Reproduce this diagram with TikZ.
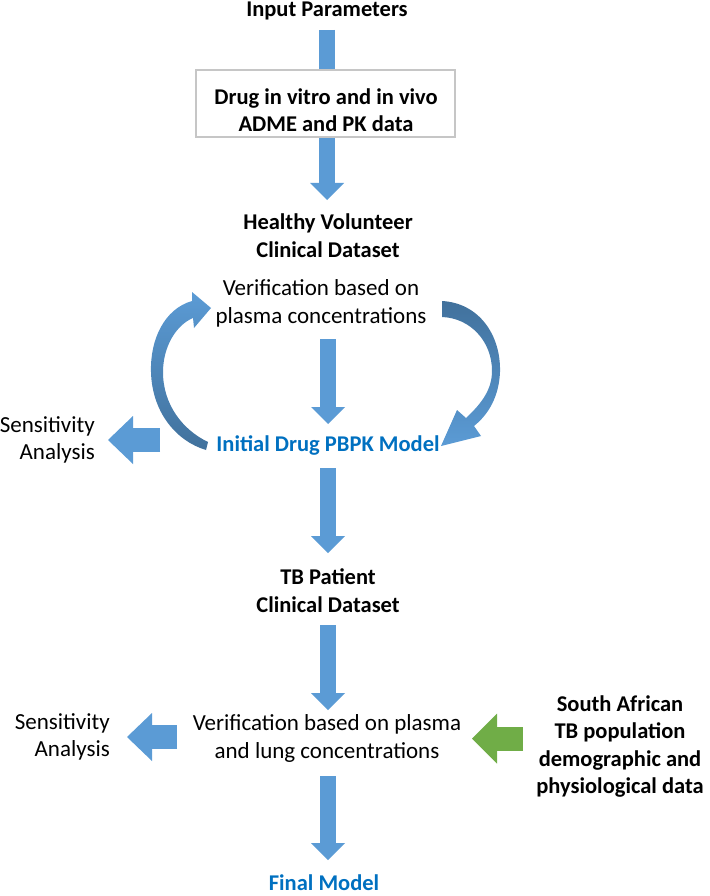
\documentclass[tikz,border=0pt]{standalone}
\usepackage{fontspec}
\setmainfont{Carlito}
\usetikzlibrary{arrows.meta}
\definecolor{arrowblue}{HTML}{5B9BD5}
\definecolor{arrowdark}{HTML}{41719C}
\definecolor{arrowgreen}{HTML}{70AD47}
\definecolor{modelblue}{HTML}{0070C0}
\begin{document}
\begin{tikzpicture}[x=1pt,y=-1pt,
	txt/.style={font=\fontsize{23}{27.5}\selectfont,align=center,inner sep=0pt},
	hd/.style={txt,font=\fontsize{22.5}{27.5}\selectfont\bfseries},
	blockdown/.style={line width=16pt,color=arrowblue,-{Triangle[length=17pt,width=34pt,line width=0pt]}},
	blockleft/.style={line width=24pt,color=arrowblue,-{Triangle[length=25pt,width=48pt,line width=0pt]}},
	greenleft/.style={blockleft,color=arrowgreen,-{Triangle[length=25pt,width=50pt,line width=0pt]}}]
	\useasboundingbox (0,0) rectangle (709,896);
	\node[hd] (input) at (327,11) {Input Parameters};
	\node[hd] (healthy) at (328,235.5) {Healthy Volunteer\\Clinical Dataset};
	\node[txt] (verif1) at (321,303.5) {Verification based on\\plasma concentrations};
	\node[hd,text=modelblue] (initial) at (328,445) {Initial Drug PBPK Model};
	\node[txt,anchor=east,align=right] (sens1) at (95,440) {Sensitivity\\Analysis};
	\node[hd] (tb) at (328,590.5) {TB Patient\\Clinical Dataset};
	\node[txt] (verif2) at (327,738.5) {Verification based on plasma\\and lung concentrations};
	\node[txt,anchor=east,align=right] (sens2) at (110,737) {Sensitivity\\Analysis};
	\node[hd] (sa) at (620,746.5) {South African\\TB population\\demographic and\\physiological data};
	\node[hd,text=modelblue] (final) at (324,883) {Final Model};
	
	\shade[top color=arrowblue,bottom color=arrowdark] (192,301) .. controls (164,309) and (150,340) .. (151,372) .. controls (152,412) and (176,441) .. (206,450) -- (208,442) .. controls (183,430) and (163,405) .. (163,372) .. controls (163,347) and (176,325) .. (193,318) -- (194,328) -- (211,308) -- (192,292) -- cycle;
	\shade[top color=arrowdark,bottom color=arrowblue] (442,301) .. controls (479,303) and (501,335) .. (500,372) .. controls (499,396) and (489,414) .. (474,426) -- (481,436) -- (441,446) -- (457,410) -- (466,418) .. controls (481,404) and (492,390) .. (492,371) .. controls (492,341) and (470,318) .. (442,317) -- cycle;
	
	\draw[blockdown,shorten <=19pt,shorten >=35.5pt] (input.center) -- (input.center |- healthy.center);
	\node[draw=gray!45,line width=2.5pt,fill=white,minimum width=259pt,minimum height=67pt] (box) at (325.5,103.5) {};
	\node[hd] (drug) at (326,110) {Drug in vitro and in vivo\\ADME and PK data};
	\draw[blockdown,shorten <=35.5pt,shorten >=21pt] (initial.center |- verif1.center) -- (initial.center);
	\draw[blockdown,shorten <=23pt,shorten >=37.5pt] (initial.center) -- (tb.center);
	\draw[blockdown,shorten <=34.5pt,shorten >=28.5pt] (tb.center) -- (tb.center |- verif2.center);
	\draw[blockdown,shorten <=37.5pt,shorten >=23pt] (tb.center |- verif2.center) -- (tb.center |- final.center);
	\draw[blockleft,shorten <=168pt,shorten >=13pt] (initial.center |- sens1.east) -- (sens1.east);
	\draw[blockleft,shorten <=150pt,shorten >=17pt] (verif2.center |- sens2.east) -- (sens2.east);
	\draw[greenleft,shorten <=97pt,shorten >=145pt] (sa.center |- verif2.center) -- (verif2.center);
\end{tikzpicture}
\end{document}
